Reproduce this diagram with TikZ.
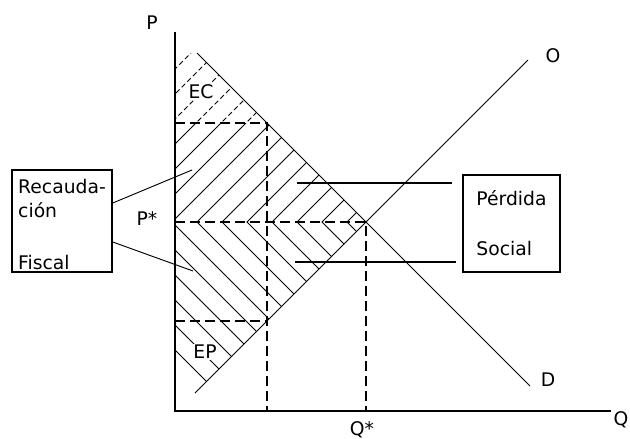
\documentclass[tikz,border=0pt]{standalone}
\usepackage{fontspec}
\setmainfont{DejaVu Sans}
\usetikzlibrary{positioning}
\tikzset{
  axis/.style={line width=1.5pt, line cap=rect},
  curve/.style={line width=0.8pt},
  guide/.style={line width=1.2pt, dash pattern=on 0.3cm off 0.15cm},
  hatch/.style={line width=0.7pt},
  hatchdash/.style={line width=0.7pt, dash pattern=on 0.15cm off 0.09cm},
  infobox/.style={rectangle, draw, line width=1.3pt, align=left,
    inner sep=0pt, font=\fontsize{16}{20.5}\selectfont},
  lbl/.style={font=\fontsize{16}{19}\selectfont, inner sep=1pt}
}

\begin{document}
\begin{tikzpicture}[x=0.03cm, y=-0.03cm]
  \useasboundingbox (0,0) rectangle (630,439);
  % Key points of the market
  \coordinate (orig) at (175,411);
  \coordinate (ptop) at (175,33);
  \coordinate (qend) at (610,411);
  \coordinate (dtop) at (197,53);
  \coordinate (dbot) at (530,386);
  \coordinate (obot) at (195,393);
  \coordinate (otop) at (528,60);
  \coordinate (eq) at (366,222);
  \coordinate (dq) at (267,123);
  \coordinate (oq) at (267,321);

  % Hatching above P* (EC dashed)
  \begin{scope}
    \clip (175,53) -- (dtop) -- (dq) -- (175,123) -- cycle;
    \foreach \c in {22,47,...,347}
      \draw[hatchdash] (\c-250,472) -- (\c+250,-28);
  \end{scope}
  \begin{scope}
    \clip (175,123) -- (dq) -- (eq) -- (175,222) -- cycle;
    \foreach \c in {22,47,...,347}
      \draw[hatch] (\c-250,472) -- (\c+250,-28);
  \end{scope}
  % Hatching below P*
  \begin{scope}
    \clip (175,222) -- (eq) -- (obot) -- (175,373) -- cycle;
    \foreach \c in {22,47,...,347}
      \draw[hatch] (\c-250,-28) -- (\c+250,472);
  \end{scope}

  % Axes and curves
  \draw[axis] (ptop) -- (orig) -- (qend);
  \draw[curve] (dtop) -- (dbot);
  \draw[curve] (obot) -- (otop);

  % Dashed guides
  \draw[guide] (175,222) -- (eq) -- (eq |- orig);
  \draw[guide] (175,123) -- (dq) -- (dq |- orig);
  \draw[guide] (175,321) -- (oq);

  % Labels
  \node[lbl] (plab) at (152,23) {P};
  \node[lbl] (qlab) at (621,420) {Q};
  \node[lbl] (olab) at (553,56) {O};
  \node[lbl] (dlab) at (548,380) {D};
  \node[lbl] (pstar) at (147,219) {P*};
  \node[lbl, anchor=base] (qstar) at (362,435) {Q*};
  \node[lbl, fill=white] (ec) at (201,92) {EC};
  \node[lbl, fill=white] (ep) at (205,352) {EP};

  % Boxes
  \node[infobox, minimum width=3cm, minimum height=3.06cm] (recaud) at (62,221)
    {\rule{0pt}{0.66cm}Recauda-\\ción\\[0.84cm]Fiscal};
  \node[infobox, minimum width=2.91cm, minimum height=2.91cm] (perdida) at (511.5,223.5)
    {Pérdida\\[0.78cm]Social};

  % Pointers
  \coordinate (fiscup) at (192,170);
  \coordinate (fiscdn) at (193,271);
  \draw[curve] (recaud.east |- 0,203) -- (fiscup);
  \draw[curve] (recaud.east |- 0,242) -- (fiscdn);
  \coordinate (lossa) at (297,183);
  \coordinate (lossb) at (452,183);
  \coordinate (lossc) at (295,262);
  \coordinate (lossd) at (456,262);
  \draw[line width=1pt] (lossa) -- (lossb);
  \draw[line width=1pt] (lossc) -- (lossd);
\end{tikzpicture}
\end{document}
